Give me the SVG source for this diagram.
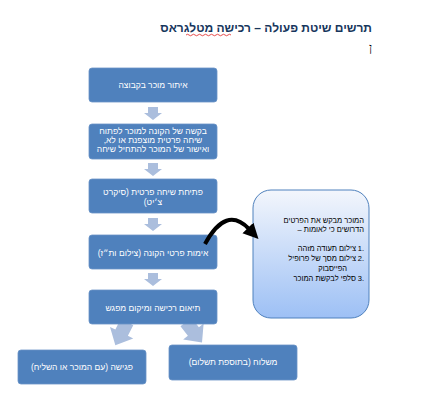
<svg xmlns="http://www.w3.org/2000/svg" width="426" height="408" viewBox="0 0 426 408">
<style>
text{font-family:"Liberation Sans","DejaVu Sans",sans-serif;}
.r{direction:rtl;unicode-bidi:embed;}
.box{fill:#4F81BD;stroke:#6A93C6;stroke-width:0.8;}
.bt{fill:#FFFFFF;font-size:8.5px;text-anchor:middle;}
.arr{fill:#ABBEDD;}
.st{fill:#000000;font-size:7.5px;text-anchor:start;}
.num{fill:#000000;font-size:7.5px;text-anchor:middle;}
</style>
<defs>
<linearGradient id="g" x1="0" y1="0" x2="0" y2="1">
<stop offset="0" stop-color="#F3F6FC"/>
<stop offset="1" stop-color="#9DC0F5"/>
</linearGradient>
<path id="da" d="M-5,0 h10 v6 h4 l-9,7 l-9,-7 h4 z"/>
<path id="ba" d="M-7,0 h14 v12 h6 l-13,14 l-13,-14 h6 z"/>
<marker id="ah" viewBox="0 0 10 10" refX="1" refY="5" markerWidth="3.8" markerHeight="4" orient="auto" markerUnits="strokeWidth">
<path d="M0,0 L10,5 L0,10 z" fill="#000"/>
</marker>
</defs>
<rect width="426" height="408" fill="#FFFFFF"/>

<g id="title">
<text class="r" x="372" y="32" style="font-size:12px;font-weight:bold;fill:#17365D;text-anchor:start;">תרשים שיטת פעולה – רכישה מטלגראס</text>
<path d="M186,35 q1.5,-1.5 3,0 t3,0 t3,0 t3,0 t3,0 t3,0 t3,0 t3,0 t3,0 t3,0 t3,0 t3,0 t3,0 t3,0 t3,0" fill="none" stroke="#E02020" stroke-width="0.8"/>
<text class="r" x="372" y="52" style="font-family:'Liberation Serif','DejaVu Serif',serif;font-size:12px;fill:#000;text-anchor:start;">ן</text>
</g>

<g id="connectors">
<use href="#da" x="153" y="107" class="arr"/>
<use href="#da" x="153" y="163" class="arr"/>
<use href="#da" x="153" y="218" class="arr"/>
<use href="#da" x="153" y="273" class="arr"/>
<use href="#ba" class="arr" transform="translate(127,322) rotate(26.6)"/>
<use href="#ba" class="arr" transform="translate(186,322) rotate(-38)"/>
</g>

<g id="n1"><rect class="box" x="89" y="68" width="128" height="34" rx="3"/>
<text class="bt r" x="153" y="88">איתור מוכר בקבוצה</text></g>

<g id="n2"><rect class="box" x="89" y="124" width="128" height="35" rx="3"/>
<text class="bt r" x="153" y="134">בקשה של הקונה למוכר לפתוח</text>
<text class="bt r" x="153" y="143">שיחה פרטית מוצפנת או לא,</text>
<text class="bt r" x="153" y="152">ואישור של המוכר להתחיל שיחה</text></g>

<g id="n3"><rect class="box" x="89" y="179" width="128" height="34" rx="3"/>
<text class="bt r" x="153" y="195">פתיחת שיחה פרטית (סיקרט</text>
<text class="bt r" x="153" y="205">צ׳יט)</text></g>

<g id="n4"><rect class="box" x="89" y="235" width="128" height="34" rx="3"/>
<text class="bt r" x="153" y="256">אימות פרטי הקונה (צילום ות״ז)</text></g>

<g id="n5"><rect class="box" x="89" y="290" width="128" height="34" rx="3"/>
<text class="bt r" x="153" y="311">תיאום רכישה ומיקום מפגש</text></g>

<g id="n6"><rect class="box" x="18" y="350" width="128" height="34" rx="3"/>
<text class="bt r" x="82" y="370">פגישה (עם המוכר או השליח)</text></g>

<g id="n7"><rect class="box" x="169" y="345" width="128" height="35" rx="3"/>
<text class="bt r" x="233" y="365">משלוח (בתוספת תשלום)</text></g>

<g id="side">
<rect x="253" y="190" width="116" height="128" rx="18" fill="url(#g)" stroke="#4F81BD" stroke-width="1"/>
<text class="st r" x="364" y="223">המוכר מבקש את הפרטים</text>
<text class="st r" x="364" y="232">הדרושים כי לאומות –</text>
<text class="num" x="361" y="251">1.</text>
<text class="st r" x="356" y="251">צילום תעודה מזהה</text>
<text class="num" x="361" y="261">2.</text>
<text class="st r" x="356" y="261">צילום מסך של פרופיל</text>
<text class="st r" x="347" y="271">הפייסבוק</text>
<text class="num" x="361" y="281">3.</text>
<text class="st r" x="356" y="281">סלפי לבקשת המוכר</text>
</g>

<g id="curved">
<path d="M205,244 Q226,205 249,229" fill="none" stroke="#000" stroke-width="4" marker-end="url(#ah)"/>
</g>
</svg>
